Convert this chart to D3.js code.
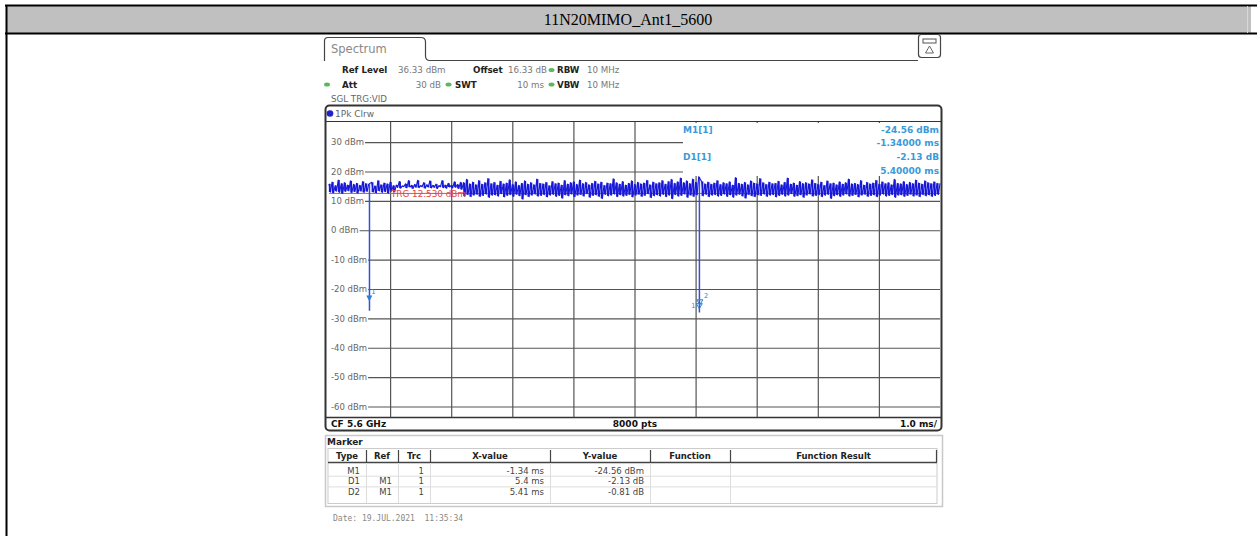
<!DOCTYPE html>
<html><head><meta charset="utf-8">
<script src="https://cdn.jsdelivr.net/npm/d3@7"></script>
<style>
html,body{margin:0;padding:0;background:#fff;}
svg{display:block;}
</style></head>
<body>
<script>
// ---------------- data ----------------
const title = "11N20MIMO_Ant1_5600";
const yTicks = [30, 20, 10, 0, -10, -20, -30, -40, -50, -60];
const xTicks = [-1, 0, 1, 2, 3, 4, 5, 6, 7];
const refLevel = 36.33, rangeDb = 100;
const timeStart = -2, timeStop = 8; // ms
const trgLevel = 12.53;
// trace envelope per bin (200 bins over the 10 ms sweep), dBm
const traceMax = [
15.8,16.4,15.2,17.1,15.9,16.2,15.4,16.8,15.6,16.0,
15.3,16.6,15.9,15.7,16.3,15.1,16.9,15.5,16.1,15.8,
16.4,15.2,15.4,16.6,15.1,15.8,16.9,15.3,15.6,17.0,
15.2,16.2,15.5,16.8,15.3,15.7,15.2,16.9,15.4,16.0,
15.3,16.5,15.6,16.3,16.2,17.3,15.8,16.4,15.5,16.9,
15.7,16.2,17.6,15.9,16.3,15.4,16.7,15.8,16.1,17.2,
15.6,16.5,15.3,16.0,16.8,15.7,16.2,15.5,17.4,16.0,
15.8,16.3,15.2,16.6,15.9,16.1,15.4,16.9,15.7,16.2,
16.5,15.6,17.1,15.9,16.3,15.5,16.0,16.7,15.8,16.4,
15.3,16.1,15.9,17.5,16.2,15.7,16.6,15.4,16.0,16.8,
15.6,16.3,15.8,16.1,17.0,15.5,16.4,15.9,16.2,16.9,
15.7,16.6,17.3,16.0,16.5,17.8,16.2,16.8,15.9,17.4,
16.3,18.2,16.6,15.8,16.4,15.7,16.1,16.9,15.6,16.2,
15.9,16.5,15.4,17.9,16.0,15.7,16.3,15.5,16.8,16.1,
15.8,17.6,16.2,15.6,16.4,15.9,16.0,16.7,15.5,16.3,
17.8,15.7,16.1,15.4,16.6,15.9,16.2,15.8,17.2,16.0,
15.6,16.4,15.3,16.8,15.9,16.1,15.5,16.5,15.7,16.2,
17.4,15.8,16.0,15.6,16.9,15.4,16.3,15.8,16.1,17.0,
15.7,16.5,15.9,16.2,15.5,17.3,16.0,15.8,16.6,15.6,
16.3,15.9,17.1,16.1,15.7,16.8,16.2,15.9,16.5,16.0];
const traceMin = [
13.0,12.7,13.3,12.9,12.5,13.2,13.4,12.8,13.1,12.6,
13.3,12.9,13.2,-27.4,13.0,12.7,13.4,12.9,13.1,12.6,
13.3,13.0,14.6,14.3,14.8,14.4,14.7,14.2,14.6,14.5,
14.8,14.3,14.7,14.4,14.6,14.2,14.8,14.5,14.3,14.7,
14.4,14.6,14.2,13.9,11.6,12.1,11.4,11.9,12.2,11.5,
11.8,12.3,11.2,11.9,12.0,11.6,12.4,11.3,11.8,12.1,
11.5,12.2,11.7,10.6,12.0,11.4,11.9,12.3,11.6,11.8,
12.1,11.3,11.9,12.2,11.5,11.8,10.9,12.0,11.7,12.3,
11.4,11.9,12.1,11.6,12.4,11.2,11.8,12.0,11.5,10.8,
12.2,11.7,11.9,12.3,11.4,12.0,11.6,11.8,12.1,11.3,
11.9,12.2,11.5,11.8,12.4,11.1,11.7,12.0,11.6,12.2,
11.4,11.9,10.7,12.1,11.6,11.8,12.3,11.2,11.9,11.5,
12.0,-28.0,11.7,12.2,11.4,11.9,12.1,11.6,11.8,12.3,
11.5,12.0,11.2,11.9,12.2,11.6,10.9,12.1,11.7,11.4,
12.0,11.8,12.3,11.5,11.9,12.1,11.3,11.8,12.2,11.6,
11.9,12.4,11.5,11.7,12.0,11.2,11.9,12.3,11.6,11.8,
12.1,11.4,11.9,12.2,10.8,11.7,12.0,11.5,11.9,12.3,
11.6,11.8,12.1,11.3,11.9,12.2,11.5,11.8,12.0,11.4,
11.9,12.3,11.6,11.8,12.1,11.2,11.9,12.0,11.5,11.8,
12.2,11.6,11.9,11.4,12.1,11.7,12.0,11.5,11.8,12.2];
// markers
const markerNames = ["M1", "D1", "D2"];
const markerRefs = ["", "M1", "M1"];
const markerTrc = ["1", "1", "1"];
const markerX = [-1.34, 5.4, 5.41];      // ms (D relative to M1)
const markerY = [-24.56, -2.13, -0.81];  // dBm / dB (D relative)
const markerXText = ["-1.34 ms", "5.4 ms", "5.41 ms"];
const markerYText = ["-24.56 dBm", "-2.13 dB", "-0.81 dB"];
const tableHeaders = ["Type", "Ref", "Trc", "X-value", "Y-value", "Function", "Function Result"];

// ---------------- drawing ----------------
const W = 1257, H = 536;
const svg = d3.select("body").append("svg").attr("width", W).attr("height", H);
const sans = "DejaVu Sans, Verdana, sans-serif";

// page frame + title bar
svg.append("rect").attr("x", 6).attr("y", 6).attr("width", 1245).attr("height", 27).attr("fill", "#c0c0c0");
svg.append("line").attr("x1", 5).attr("x2", W).attr("y1", 5.5).attr("y2", 5.5).attr("stroke", "#000").attr("stroke-width", 2);
svg.append("line").attr("x1", 5).attr("x2", W).attr("y1", 33.5).attr("y2", 33.5).attr("stroke", "#000").attr("stroke-width", 2);
svg.append("line").attr("x1", 6.5).attr("x2", 6.5).attr("y1", 5).attr("y2", H).attr("stroke", "#000").attr("stroke-width", 2);
svg.append("line").attr("x1", 1247.5).attr("x2", 1247.5).attr("y1", 6).attr("y2", 33).attr("stroke", "#d8d8d8").attr("stroke-width", 1);
svg.append("text").attr("x", 628).attr("y", 25).attr("text-anchor", "middle")
  .attr("font-family", "Liberation Serif, Times New Roman, serif").attr("font-size", 16).attr("fill", "#000").text(title);

// Spectrum tab
svg.append("path").attr("d", "M324.5,61 L324.5,41 Q324.5,37.5 328,37.5 L421,37.5 Q425.5,37.5 425.5,42 L425.5,56 Q425.5,60.5 430,60.5 L918,60.5")
  .attr("fill", "none").attr("stroke", "#444").attr("stroke-width", 1.2);
svg.append("text").attr("x", 331).attr("y", 53).attr("font-family", sans).attr("font-size", 11.5).attr("fill", "#888").text("Spectrum");
// icon
svg.append("rect").attr("x", 918.5).attr("y", 34.5).attr("width", 22).attr("height", 23).attr("rx", 3)
  .attr("fill", "#fff").attr("stroke", "#444").attr("stroke-width", 1.2);
svg.append("rect").attr("x", 923).attr("y", 39).attr("width", 13).attr("height", 4).attr("fill", "#fff").attr("stroke", "#555").attr("stroke-width", 1);
svg.append("path").attr("d", "M929.5,46 L925.5,53 L933.5,53 Z").attr("fill", "none").attr("stroke", "#666").attr("stroke-width", 1);

// header settings
const hdr = svg.append("g").attr("font-family", sans).attr("font-size", 8.7);
function t(x, y, s, opts = {}) {
  return hdr.append("text").attr("x", x).attr("y", y).attr("fill", opts.c || "#777")
    .attr("font-weight", opts.b ? "bold" : "normal").attr("text-anchor", opts.a || "start").text(s);
}
function dot(x, y) { hdr.append("ellipse").attr("cx", x).attr("cy", y).attr("rx", 3).attr("ry", 2).attr("fill", "#5cb85c"); }
t(342, 73, "Ref Level", { b: 1, c: "#222" }); t(398, 73, "36.33 dBm");
t(473, 73, "Offset", { b: 1, c: "#222" }); t(547, 73, "16.33 dB", { a: "end" }); dot(551.5, 70); t(557, 73, "RBW", { b: 1, c: "#222" }); t(587, 73, "10 MHz");
dot(327, 84.5); t(342, 88, "Att", { b: 1, c: "#222" }); t(441, 88, "30 dB", { a: "end" }); dot(448.5, 84.5); t(455, 88, "SWT", { b: 1, c: "#222" });
t(544, 88, "10 ms", { a: "end" }); dot(551.5, 84.5); t(557, 88, "VBW", { b: 1, c: "#222" }); t(587, 88, "10 MHz");
t(331, 102, "SGL TRG:VID", { c: "#666" });

// diagram frame
svg.append("rect").attr("x", 325.5).attr("y", 105.5).attr("width", 616).attr("height", 325).attr("rx", 4)
  .attr("fill", "#fff").attr("stroke", "#333").attr("stroke-width", 2);
svg.append("circle").attr("cx", 330).attr("cy", 113.5).attr("r", 3.3).attr("fill", "#2222cc");
svg.append("text").attr("x", 335).attr("y", 117).attr("font-family", sans).attr("font-size", 9).attr("fill", "#666").text("1Pk Clrw");

const L = 329, R = 940;
const x = d3.scaleLinear().domain([timeStart, timeStop]).range([L, R]);
const y = d3.scaleLinear().domain([refLevel, refLevel - rangeDb]).range([123.5, 417.3]);

svg.append("line").attr("x1", 326).attr("x2", 941).attr("y1", 121.5).attr("y2", 121.5).attr("stroke", "#333").attr("stroke-width", 1.2);
svg.append("line").attr("x1", 326).attr("x2", 941).attr("y1", 417.5).attr("y2", 417.5).attr("stroke", "#333").attr("stroke-width", 1.5);

// grid via axes
const gx = svg.append("g").attr("transform", `translate(0,${y.range()[1]})`)
  .call(d3.axisTop(x).tickValues(xTicks).tickSize(y.range()[1] - 122).tickFormat(""));
gx.select(".domain").remove();
gx.selectAll(".tick line").attr("stroke", "#555").attr("stroke-width", 1.2);
const gy = svg.append("g").attr("transform", `translate(${L},0)`)
  .call(d3.axisRight(y).tickValues(yTicks).tickSize(R - L).tickFormat(""));
gy.select(".domain").remove();
gy.selectAll(".tick line").attr("stroke", "#555").attr("stroke-width", 1.2);

// marker info box (interrupts grid on top right)
svg.append("rect").attr("x", 683).attr("y", 123).attr("width", 257).attr("height", 53).attr("fill", "#fff");

// y labels (axis text) with white backgrounds
const gl = svg.append("g").attr("transform", `translate(${L},0)`)
  .call(d3.axisRight(y).tickValues(yTicks).tickSize(0).tickPadding(2).tickFormat(d => d + " dBm"));
gl.select(".domain").remove();
gl.selectAll(".tick text").attr("font-family", sans).attr("font-size", 8.5).attr("fill", "#666");
gl.selectAll(".tick").each(function () {
  const g = d3.select(this), tx = g.select("text").node(), b = tx.getBBox();
  g.insert("rect", "text").attr("x", -1).attr("y", b.y + 1).attr("width", b.x + b.width + 2).attr("height", b.height - 2).attr("fill", "#fff");
});

// trigger line
svg.append("line").attr("x1", L).attr("x2", R).attr("y1", y(trgLevel)).attr("y2", y(trgLevel)).attr("stroke", "#e05050").attr("stroke-width", 1);

// trace
const binW = (timeStop - timeStart) / traceMax.length;
const traceCol = "#1818d8";
const pts = [];
traceMax.forEach((v, i) => {
  const t0 = timeStart + i * binW;
  pts.push([x(t0), y(v)]);
  pts.push([x(t0 + binW / 2), y(traceMin[i])]);
});
pts.push([x(timeStop), y(traceMax[traceMax.length - 1])]);
const tg = svg.append("g");
traceMax.forEach((v, i) => {
  const t0 = timeStart + i * binW;
  const deep = traceMin[i] < 0;
  tg.append("line").attr("x1", x(t0 + binW / 4)).attr("x2", x(t0 + binW / 4))
    .attr("y1", y(v)).attr("y2", y(deep ? traceMin[i] : traceMin[i]))
    .attr("stroke", deep ? "#3550d8" : traceCol).attr("stroke-width", deep ? 1.5 : 1.8);
});
tg.append("path").attr("d", d3.line()(pts.filter(p => p[1] < y(0)))).attr("fill", "none").attr("stroke", traceCol).attr("stroke-width", 1.1).attr("stroke-linejoin", "round");

// TRG label
svg.append("text").attr("x", 391).attr("y", 197).attr("font-family", sans).attr("font-size", 8.8).attr("fill", "#e04848").text("TRG  12.530 dBm");

// marker symbols
const m1x = markerX[0], m1y = markerY[0];
const mxs = [m1x, m1x + markerX[1], m1x + markerX[2]];
const mys = [m1y, m1y + markerY[1], m1y + markerY[2]];
const mcol = "#2a7fd8";
svg.append("path").attr("d", `M${x(mxs[0]) - 3},${y(mys[0]) - 7} L${x(mxs[0]) + 3},${y(mys[0]) - 7} L${x(mxs[0])},${y(mys[0]) - 1} Z`).attr("fill", mcol);
svg.append("text").attr("x", x(mxs[0]) + 2).attr("y", y(mys[0]) - 8).attr("font-family", sans).attr("font-size", 7).attr("fill", mcol).text("1");
[1, 2].forEach(i => {
  const cx = x(mxs[i]), cy = y(mys[i]);
  svg.append("path").attr("d", `M${cx - 3},${cy - 5} L${cx + 3},${cy - 5} L${cx},${cy} Z`).attr("fill", "none").attr("stroke", mcol).attr("stroke-width", 1);
  svg.append("text").attr("x", i === 1 ? cx - 8 : cx + 4).attr("y", i === 1 ? cy - 1 : cy - 7).attr("font-family", sans).attr("font-size", 6.5).attr("fill", mcol).text(String(i));
});

// marker info text
const mi = svg.append("g").attr("font-family", sans).attr("font-size", 9).attr("fill", "#3a9ad9").attr("font-weight", "bold");
mi.append("text").attr("x", 683).attr("y", 132.5).text("M1[1]");
mi.append("text").attr("x", 939).attr("y", 132.5).attr("text-anchor", "end").text(markerYText[0]);
mi.append("text").attr("x", 939).attr("y", 146).attr("text-anchor", "end").text(markerX[0].toFixed(5) + " ms");
mi.append("text").attr("x", 683).attr("y", 160).text("D1[1]");
mi.append("text").attr("x", 939).attr("y", 160).attr("text-anchor", "end").text(markerY[1].toFixed(2) + " dB");
mi.append("text").attr("x", 939).attr("y", 173.5).attr("text-anchor", "end").text(markerX[1].toFixed(5) + " ms");

// bottom row
const br = svg.append("g").attr("font-family", sans).attr("font-size", 9).attr("font-weight", "bold").attr("fill", "#111");
br.append("text").attr("x", 331).attr("y", 427).text("CF 5.6 GHz");
br.append("text").attr("x", 635).attr("y", 427).attr("text-anchor", "middle").text("8000 pts");
br.append("text").attr("x", 937).attr("y", 427).attr("text-anchor", "end").text("1.0 ms/");

// marker table panel
svg.append("rect").attr("x", 325.5).attr("y", 435.5).attr("width", 617).attr("height", 71).attr("fill", "#fff").attr("stroke", "#c8c8c8").attr("stroke-width", 1.5);
svg.append("text").attr("x", 327).attr("y", 445).attr("font-family", sans).attr("font-size", 9).attr("font-weight", "bold").attr("fill", "#222").text("Marker");
const cols = [328, 366, 398, 430, 550, 650, 730, 937];
const tb = svg.append("g").attr("font-family", sans).attr("font-size", 8.5);
tb.append("rect").attr("x", cols[0]).attr("y", 448.5).attr("width", cols[7] - cols[0]).attr("height", 55).attr("fill", "#fff").attr("stroke", "#ccc");
tb.append("line").attr("x1", cols[0]).attr("x2", cols[7]).attr("y1", 462.5).attr("y2", 462.5).attr("stroke", "#444").attr("stroke-width", 1.3);
cols.slice(1, 7).forEach(c => {
  tb.append("line").attr("x1", c + 0.5).attr("x2", c + 0.5).attr("y1", 450).attr("y2", 462).attr("stroke", "#444").attr("stroke-width", 1.2);
  tb.append("line").attr("x1", c + 0.5).attr("x2", c + 0.5).attr("y1", 463).attr("y2", 503).attr("stroke", "#ddd");
});
tb.append("line").attr("x1", cols[7] - 0.5).attr("x2", cols[7] - 0.5).attr("y1", 450).attr("y2", 462).attr("stroke", "#444").attr("stroke-width", 1.2);
tableHeaders.forEach((h, i) => {
  tb.append("text").attr("x", (cols[i] + cols[i + 1]) / 2).attr("y", 459).attr("text-anchor", "middle").attr("font-weight", "bold").attr("fill", "#222").text(h);
});
const rowY = [465, 475.7, 486.4, 497.1];
[1, 2].forEach(k => tb.append("line").attr("x1", cols[0]).attr("x2", cols[7]).attr("y1", rowY[k] + 0.5).attr("y2", rowY[k] + 0.5).attr("stroke", "#ddd"));
markerNames.forEach((m, r) => {
  const yy = rowY[r] + 8.5;
  const vals = [m, markerRefs[r], markerTrc[r], markerXText[r], markerYText[r]];
  vals.forEach((v, c) => {
    tb.append("text").attr("x", cols[c + 1] - 6).attr("y", yy).attr("text-anchor", "end").attr("fill", "#444").text(v);
  });
});

// date
svg.append("text").attr("x", 333).attr("y", 521).attr("font-family", "DejaVu Sans Mono, Liberation Mono, monospace").attr("font-size", 8).attr("fill", "#888")
  .style("white-space", "pre").text("Date: 19.JUL.2021  11:35:34");
</script>
</body></html>
